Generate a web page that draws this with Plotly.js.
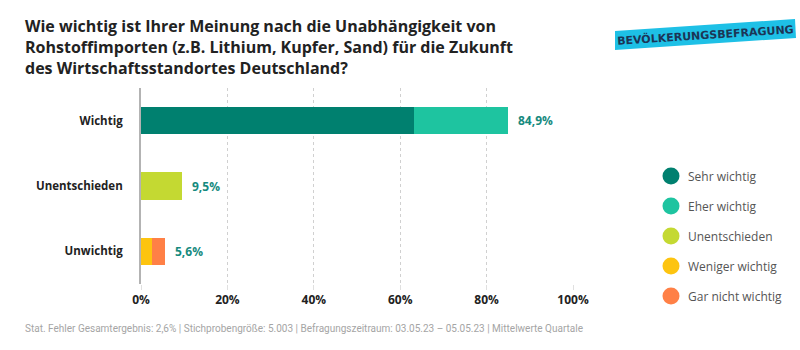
<!DOCTYPE html>
<html>
<head>
<meta charset="utf-8">
<script src="https://cdn.plot.ly/plotly-3.0.1.min.js"></script>
<style>html,body{margin:0;padding:0;background:#fff;}#chart{width:800px;height:350px;}</style>
</head>
<body>
<div id="chart"></div>
<script>
// ---- data ----
const categories = ["Wichtig", "Unentschieden", "Unwichtig"];
const seriesNames = ["Sehr wichtig", "Eher wichtig", "Unentschieden", "Weniger wichtig", "Gar nicht wichtig"];
const sehrWichtig = [63.2, null, null];
const eherWichtig = [21.7, null, null];
const unentschieden = [null, 9.5, null];
const wenigerWichtig = [null, null, 2.5];
const garNichtWichtig = [null, null, 3.1];
const totalLabels = ["84,9%", "9,5%", "5,6%"];
const tickValues = [0, 20, 40, 60, 80, 100];
const tickLabels = ["0%", "20%", "40%", "60%", "80%", "100%"];

// ---- styling ----
const colors = ["#00806f", "#1ec4a0", "#c4d932", "#fdc410", "#ff8046"];
const L = 141, T = 88, R = 227, B = 66, W = 800 - L - R, H = 350 - T - B;
const px = x => (x - L) / W;
const py = y => 1 - (y - T) / H;
const FONT = "Open Sans, sans-serif";

const seriesValues = [sehrWichtig, eherWichtig, unentschieden, wenigerWichtig, garNichtWichtig];
const traces = seriesValues.map((vals, i) => ({
  type: "bar", orientation: "h", name: seriesNames[i],
  y: categories, x: vals, width: 0.42,
  marker: {color: colors[i]}, showlegend: false, hoverinfo: "x+name"
}));

const totals = categories.map((c, j) => seriesValues.reduce((s, v) => s + (v[j] || 0), 0));

const annotations = categories.map((c, j) => ({
  x: totals[j], y: c, xref: "x", yref: "y", text: totalLabels[j],
  showarrow: false, xanchor: "left", xshift: 8,
  font: {family: FONT, size: 12, color: "#168a7e", weight: 700}
}));

// legend
const legendRows = [176, 206, 236, 266, 296];
const shapes = [];
seriesNames.forEach((n, i) => {
  shapes.push({type: "circle", xref: "paper", yref: "paper", xsizemode: "pixel", ysizemode: "pixel",
    xanchor: px(671), yanchor: py(legendRows[i]), x0: -8.5, x1: 8.5, y0: -8.5, y1: 8.5,
    fillcolor: colors[i], line: {width: 0}});
  annotations.push({x: px(686), y: py(legendRows[i]), xref: "paper", yref: "paper", text: n,
    showarrow: false, xanchor: "left", yanchor: "middle",
    font: {family: FONT, size: 12, color: "#555"}});
});

// badge
shapes.push({type: "path", xref: "paper", yref: "paper",
  path: `M ${px(615)},${py(31)} L ${px(795)},${py(19)} L ${px(796)},${py(38)} L ${px(615)},${py(50)} Z`,
  fillcolor: "#1ec0e6", line: {width: 0}});
annotations.push({x: px(705), y: py(35), xref: "paper", yref: "paper", text: "BEVÖLKERUNGSBEFRAGUNG",
  showarrow: false, xanchor: "center", yanchor: "middle", textangle: -3.8,
  font: {family: "DejaVu Sans, sans-serif", size: 11, color: "#1c3556", weight: 700}});

// title
annotations.push({x: px(23), y: py(13), xref: "paper", yref: "paper",
  text: "Wie wichtig ist Ihrer Meinung nach die Unabhängigkeit von<br>Rohstoffimporten (z.B. Lithium, Kupfer, Sand) für die Zukunft<br>des Wirtschaftsstandortes Deutschland?",
  showarrow: false, xanchor: "left", yanchor: "top", align: "left",
  font: {family: FONT, size: 16, color: "#222", weight: 700}});

// footer
annotations.push({x: px(23), y: py(328), xref: "paper", yref: "paper", text:
  "Stat. Fehler Gesamtergebnis: 2,6% | Stichprobengröße: 5.003 | Befragungszeitraum: 03.05.23 – 05.05.23 | Mittelwerte Quartale",
  showarrow: false, xanchor: "left", yanchor: "middle",
  font: {family: "Roboto, sans-serif", size: 10, color: "#a5a5a5"}});

const layout = {
  width: 800, height: 350,
  margin: {l: L, r: R, t: T, b: B},
  paper_bgcolor: "#fff", plot_bgcolor: "#fff",
  barmode: "stack", bargap: 0.58, showlegend: false,
  font: {family: FONT, color: "#222"},
  xaxis: {
    range: [0, 100], tickvals: tickValues, ticktext: tickLabels,
    showgrid: true, gridcolor: "#d0d0d0", griddash: "dot", gridwidth: 1,
    zeroline: false, showline: false,
    ticks: "outside", ticklen: 5, tickcolor: "#e0e0e0",
    tickfont: {family: FONT, size: 12, color: "#222", weight: 700},
    fixedrange: true
  },
  yaxis: {
    type: "category", autorange: "reversed",
    showline: true, linecolor: "#b3b3b3", linewidth: 2,
    showgrid: false, zeroline: false, ticks: "",
    ticklabelstandoff: 14,
    tickfont: {family: FONT, size: 11.5, color: "#222", weight: 700},
    fixedrange: true
  },
  shapes: shapes,
  annotations: annotations
};

Plotly.newPlot("chart", traces, layout, {displayModeBar: false, staticPlot: true});
</script>
</body>
</html>
